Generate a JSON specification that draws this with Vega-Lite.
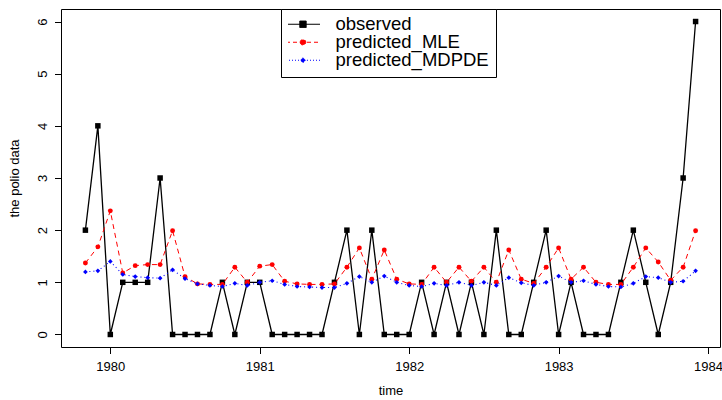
{
  "$schema": "https://vega.github.io/schema/vega-lite/v6.json",
  "width": 659,
  "height": 338,
  "autosize": {"type": "none"},
  "padding": {"left": 61, "top": 9, "right": 2, "bottom": 53},
  "background": "white",
  "data": {
    "values": [
      {"t": 1979.8333, "observed": 2, "predicted_MLE": 1.37, "predicted_MDPDE": 1.20},
      {"t": 1979.9167, "observed": 4, "predicted_MLE": 1.68, "predicted_MDPDE": 1.22},
      {"t": 1980.0, "observed": 0, "predicted_MLE": 2.37, "predicted_MDPDE": 1.40},
      {"t": 1980.0833, "observed": 1, "predicted_MLE": 1.18, "predicted_MDPDE": 1.15},
      {"t": 1980.1667, "observed": 1, "predicted_MLE": 1.32, "predicted_MDPDE": 1.11},
      {"t": 1980.25, "observed": 1, "predicted_MLE": 1.34, "predicted_MDPDE": 1.09},
      {"t": 1980.3333, "observed": 3, "predicted_MLE": 1.34, "predicted_MDPDE": 1.08},
      {"t": 1980.4167, "observed": 0, "predicted_MLE": 1.99, "predicted_MDPDE": 1.24},
      {"t": 1980.5, "observed": 0, "predicted_MLE": 1.11, "predicted_MDPDE": 1.07},
      {"t": 1980.5833, "observed": 0, "predicted_MLE": 0.97, "predicted_MDPDE": 0.97},
      {"t": 1980.6667, "observed": 0, "predicted_MLE": 0.96, "predicted_MDPDE": 0.94},
      {"t": 1980.75, "observed": 1, "predicted_MLE": 0.96, "predicted_MDPDE": 0.92},
      {"t": 1980.8333, "observed": 0, "predicted_MLE": 1.29, "predicted_MDPDE": 0.98},
      {"t": 1980.9167, "observed": 1, "predicted_MLE": 1.00, "predicted_MDPDE": 0.94},
      {"t": 1981.0, "observed": 1, "predicted_MLE": 1.31, "predicted_MDPDE": 1.00},
      {"t": 1981.0833, "observed": 0, "predicted_MLE": 1.34, "predicted_MDPDE": 1.03},
      {"t": 1981.1667, "observed": 0, "predicted_MLE": 1.02, "predicted_MDPDE": 0.96},
      {"t": 1981.25, "observed": 0, "predicted_MLE": 0.97, "predicted_MDPDE": 0.92},
      {"t": 1981.3333, "observed": 0, "predicted_MLE": 0.96, "predicted_MDPDE": 0.91},
      {"t": 1981.4167, "observed": 0, "predicted_MLE": 0.96, "predicted_MDPDE": 0.90},
      {"t": 1981.5, "observed": 1, "predicted_MLE": 0.97, "predicted_MDPDE": 0.90},
      {"t": 1981.5833, "observed": 2, "predicted_MLE": 1.29, "predicted_MDPDE": 0.98},
      {"t": 1981.6667, "observed": 0, "predicted_MLE": 1.66, "predicted_MDPDE": 1.11},
      {"t": 1981.75, "observed": 2, "predicted_MLE": 1.06, "predicted_MDPDE": 1.00},
      {"t": 1981.8333, "observed": 0, "predicted_MLE": 1.62, "predicted_MDPDE": 1.12},
      {"t": 1981.9167, "observed": 0, "predicted_MLE": 1.06, "predicted_MDPDE": 1.00},
      {"t": 1982.0, "observed": 0, "predicted_MLE": 0.97, "predicted_MDPDE": 0.94},
      {"t": 1982.0833, "observed": 1, "predicted_MLE": 0.96, "predicted_MDPDE": 0.92},
      {"t": 1982.1667, "observed": 0, "predicted_MLE": 1.29, "predicted_MDPDE": 0.98},
      {"t": 1982.25, "observed": 1, "predicted_MLE": 1.00, "predicted_MDPDE": 0.94},
      {"t": 1982.3333, "observed": 0, "predicted_MLE": 1.29, "predicted_MDPDE": 1.00},
      {"t": 1982.4167, "observed": 1, "predicted_MLE": 1.02, "predicted_MDPDE": 0.94},
      {"t": 1982.5, "observed": 0, "predicted_MLE": 1.29, "predicted_MDPDE": 1.00},
      {"t": 1982.5833, "observed": 2, "predicted_MLE": 1.00, "predicted_MDPDE": 0.94},
      {"t": 1982.6667, "observed": 0, "predicted_MLE": 1.62, "predicted_MDPDE": 1.09},
      {"t": 1982.75, "observed": 0, "predicted_MLE": 1.06, "predicted_MDPDE": 0.99},
      {"t": 1982.8333, "observed": 1, "predicted_MLE": 0.98, "predicted_MDPDE": 0.94},
      {"t": 1982.9167, "observed": 2, "predicted_MLE": 1.29, "predicted_MDPDE": 1.00},
      {"t": 1983.0, "observed": 0, "predicted_MLE": 1.66, "predicted_MDPDE": 1.12},
      {"t": 1983.0833, "observed": 1, "predicted_MLE": 1.06, "predicted_MDPDE": 1.00},
      {"t": 1983.1667, "observed": 0, "predicted_MLE": 1.29, "predicted_MDPDE": 1.03},
      {"t": 1983.25, "observed": 0, "predicted_MLE": 1.00, "predicted_MDPDE": 0.96},
      {"t": 1983.3333, "observed": 0, "predicted_MLE": 0.96, "predicted_MDPDE": 0.92},
      {"t": 1983.4167, "observed": 1, "predicted_MLE": 0.96, "predicted_MDPDE": 0.91},
      {"t": 1983.5, "observed": 2, "predicted_MLE": 1.29, "predicted_MDPDE": 0.98},
      {"t": 1983.5833, "observed": 1, "predicted_MLE": 1.66, "predicted_MDPDE": 1.11},
      {"t": 1983.6667, "observed": 0, "predicted_MLE": 1.39, "predicted_MDPDE": 1.09},
      {"t": 1983.75, "observed": 1, "predicted_MLE": 1.04, "predicted_MDPDE": 1.00},
      {"t": 1983.8333, "observed": 3, "predicted_MLE": 1.29, "predicted_MDPDE": 1.02},
      {"t": 1983.9167, "observed": 6, "predicted_MLE": 1.99, "predicted_MDPDE": 1.22}
    ]
  },
  "transform": [
    {"fold": ["observed", "predicted_MLE", "predicted_MDPDE"], "as": ["series", "value"]}
  ],
  "encoding": {
    "x": {
      "field": "t", "type": "quantitative",
      "scale": {"domain": [1979.67, 1984.08], "nice": false, "zero": false},
      "axis": {
        "values": [1980, 1981, 1982, 1983, 1984], "format": "d",
        "labelBaseline": "alphabetic", "labelPadding": 17, "labelFlush": false, "labelOverlap": false, "labelBound": false,
        "title": "time", "titleBaseline": "alphabetic", "titleY": 47.3
      }
    },
    "y": {
      "field": "value", "type": "quantitative",
      "scale": {"domain": [-0.24, 6.24], "nice": false, "zero": false},
      "axis": {
        "values": [0, 1, 2, 3, 4, 5, 6],
        "labelAngle": 270, "labelAlign": "center", "labelBaseline": "alphabetic", "labelPadding": 8.5, "labelOverlap": false,
        "title": "the polio data", "titleAngle": 270, "titleAlign": "center", "titleBaseline": "alphabetic", "titleX": -43, "titleY": 169
      }
    }
  },
  "layer": [
    {
      "transform": [{"filter": "datum.series === 'observed'"}],
      "mark": {"type": "line", "color": "black", "strokeWidth": 1.3},
      "encoding": {}
    },
    {
      "transform": [{"filter": "datum.series === 'observed'"}],
      "mark": {"type": "square", "color": "black", "filled": true, "opacity": 1, "size": 30},
      "encoding": {}
    },
    {
      "transform": [{"filter": "datum.series === 'predicted_MLE'"}],
      "mark": {"type": "line", "color": "red", "strokeWidth": 1, "strokeDash": [5, 4]},
      "encoding": {}
    },
    {
      "transform": [{"filter": "datum.series === 'predicted_MLE'"}],
      "mark": {"type": "circle", "color": "red", "opacity": 1, "size": 24},
      "encoding": {}
    },
    {
      "transform": [{"filter": "datum.series === 'predicted_MDPDE'"}],
      "mark": {"type": "line", "color": "blue", "strokeWidth": 1.1, "strokeDash": [1, 3]},
      "encoding": {}
    },
    {
      "transform": [{"filter": "datum.series === 'predicted_MDPDE'"}],
      "mark": {"type": "point", "shape": "diamond", "color": "blue", "filled": true, "opacity": 1, "size": 22},
      "encoding": {}
    },
    {
      "transform": [{"filter": "datum.value < -100"}],
      "mark": {"type": "point", "filled": true, "strokeWidth": 1},
      "encoding": {
        "fill": {"field": "series", "type": "nominal",
          "scale": {"domain": ["observed", "predicted_MLE", "predicted_MDPDE"], "range": ["black", "red", "blue"]},
          "legend": {"title": null}},
        "stroke": {"field": "series", "type": "nominal",
          "scale": {"domain": ["observed", "predicted_MLE", "predicted_MDPDE"], "range": ["black", "red", "blue"]},
          "legend": {"title": null}},
        "shape": {"field": "series", "type": "nominal",
          "scale": {"domain": ["observed", "predicted_MLE", "predicted_MDPDE"],
            "range": [
              "M-1,0H1M-0.19,-0.19H0.19V0.19H-0.19Z",
              "M-1,0H1M-0.165,0A0.165,0.165,0,1,0,0.165,0A0.165,0.165,0,1,0,-0.165,0Z",
              "M-1,0H1M0,-0.15L0.15,0L0,0.15L-0.15,0Z"
            ]},
          "legend": {"title": null}},
        "strokeDash": {"field": "series", "type": "nominal",
          "scale": {"domain": ["observed", "predicted_MLE", "predicted_MDPDE"], "range": [[1, 0], [4, 3], [1, 2]]},
          "legend": {"title": null}}
      }
    }
  ],
  "config": {
    "font": "Liberation Sans",
    "view": {"stroke": "black", "strokeWidth": 1},
    "axis": {
      "domain": false, "grid": false, "ticks": true, "tickColor": "black", "tickSize": 6.5, "tickWidth": 1,
      "labelFont": "Liberation Sans", "labelFontSize": 13, "labelColor": "black",
      "titleFont": "Liberation Sans", "titleFontSize": 13, "titleFontWeight": "normal", "titleColor": "black"
    },
    "legend": {
      "orient": "none", "legendX": 220, "legendY": 0,
      "strokeColor": "black", "fillColor": "white", "padding": 7, "cornerRadius": 0,
      "symbolSize": 1156, "symbolStrokeWidth": 1, "symbolOffset": -2.5, "symbolOpacity": 1,
      "labelOffset": 15, "labelFontSize": 18.5, "labelFont": "Liberation Sans", "labelColor": "black",
      "rowPadding": -2, "clipHeight": 16.5, "labelLimit": 400
    }
  }
}
